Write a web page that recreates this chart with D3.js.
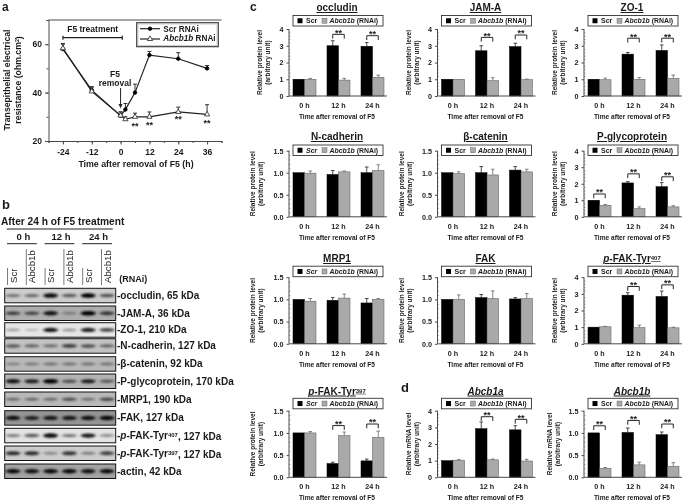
<!DOCTYPE html>
<html><head><meta charset="utf-8">
<script src="https://cdn.jsdelivr.net/npm/d3@7/dist/d3.min.js"></script>
<style>
html,body{margin:0;padding:0;background:#fff}
svg{display:block;filter:blur(0.45px)}
text{font-family:"Liberation Sans",Arial,sans-serif;fill:#1a1a1a}
</style></head><body>
<svg id="chart" width="685" height="501"></svg>
<script>
// ---------- panel a data ----------
const trerHours = [-24,-12,0,2,6,12,24,36];
const trerScr = [58,41,30.5,33,40,55.5,54,50];
const trerScrErr = [2,1.5,1.5,2.5,3.5,1.5,2.5,1.2];
const trerAbcb = [58.3,40.5,30.5,29,30,30,32,31];
const trerAbcbErr = [2,1.5,1.5,1,1.5,2,2,4];
const trerTicks = [-24,-12,0,12,24,36];
const trerStarHours = [6,12,24,36];
const trerStarValues = [26.5,27,29.5,27.5];
// ---------- panel b data ----------
const blotLabels = ["occludin, 65 kDa","JAM-A, 36 kDa","ZO-1, 210 kDa","N-cadherin, 127 kDa","β-catenin, 92 kDa","P-glycoprotein, 170 kDa","MRP1, 190 kDa","FAK, 127 kDa","*p*-FAK-Tyr^407^, 127 kDa","*p*-FAK-Tyr^397^, 127 kDa","actin, 42 kDa"];
const blotLanes = ["Scr","Abcb1b","Scr","Abcb1b","Scr","Abcb1b"];
const blotTimes = ["0 h","12 h","24 h"];
const blotBands = [
 [.45,.5,.95,.55,1,.6],[.65,.6,.9,.3,1,.7],[.3,.2,.9,.35,.85,.7],[.55,.5,.45,.7,.6,.5],
 [.3,.35,.4,.4,.4,.4],[.9,.85,1,.55,.85,.5],[.45,.45,.45,.55,.4,.6],[.9,.8,.85,.85,.9,.95],
 [.45,.6,.95,.5,.9,.4],[.8,.8,.35,.75,.4,.7],[.95,.9,.95,.95,.9,.95]];
const blotBackground = [.2,.32,.1,.24,.28,.3,.28,.42,.11,.2,.36];
// ---------- panels c,d data ----------
const panelTitles = ["occludin","JAM-A","ZO-1","N-cadherin","β-catenin","P-glycoprotein","MRP1","FAK","*p*-FAK-Tyr^407^","*p*-FAK-Tyr^397^","*Abcb1a*","*Abcb1b*"];
const timeLabels = ["0 h","12 h","24 h"];
const panelMax = [4,4,4,1.5,1.5,4,1.5,1.5,4,1.5,4,1.5];
const scrMeans = [[1,3,2.97],[1,2.7,2.95],[1,2.5,2.72],[1,.96,1],[1,1,1.06],[1,2.05,1.82],[1,.98,.92],[1,1.04,1.01],[1,2.92,2.84],[1,.31,.37],[1,2.92,2.85],[1,1.01,.96]];
const scrErrors = [[0,.3,.22],[0,.3,.2],[0,.1,.33],[0,.09,.13],[0,.14,.08],[0,.08,.25],[0,.06,.1],[0,.07,.03],[0,.15,.33],[0,.03,.04],[0,.4,.25],[0,.1,.06]];
const abcbMeans = [[1,.95,1.12],[1,.92,.98],[.97,1,1.05],[.99,1.02,1.05],[.98,.95,1.02],[.7,.5,.6],[.96,1.03,1],[1,1.02,1.02],[1.02,.97,.96],[1,.94,.9],[1.03,1.05,.98],[.2,.28,.25]];
const abcbErrors = [[.05,.1,.13],[0,.17,.03],[.1,.1,.2],[.05,.02,.13],[.04,.13,.06],[.05,.1,.07],[.06,.09,.02],[.1,.17,.11],[.03,.15,.04],[.03,.08,.14],[.03,.05,.1],[.02,.06,.08]];
const sigLevels = [[null,3.68,3.6],[null,3.5,3.64],[null,3.45,3.45],[null,null,null],[null,null,null],[1.38,2.6,2.42],[null,null,null],[null,null,null],[null,3.44,3.54],[null,1.165,1.2],[null,3.64,3.48],[1.16,1.28,1.2]];
const scrItalic = [false,false,false,true,false,false,true,false,false,true,false,false];
const yLabelFirst = ["Relative protein level","Relative protein level","Relative protein level","Relative protein level","Relative protein level","Relative protein level","Relative protein level","Relative protein level","Relative protein level","Relative protein level","Relative mRNA level","Relative mRNA level"];

const svg = d3.select("#chart");
const blackC="#000", grayC="#a9a9a9", axisC="#4a4a4a";

function rich(sel, str){
  // *x* italic, ^x^ superscript
  const parts = str.split(/(\*[^*]+\*|\^[^^]+\^)/).filter(s=>s.length);
  let afterSup=false;
  parts.forEach(p=>{
    const t = sel.append("tspan");
    if(afterSup){t.attr("dy","0.3em");afterSup=false;}
    if(p[0]==="*"){t.style("font-style","italic").text(p.slice(1,-1));}
    else if(p[0]==="^"){t.attr("dy","-0.3em").style("font-size","0.6em").text(p.slice(1,-1));afterSup=true;}
    else t.text(p);
  });
  return sel;
}
function label(x,y,str,opts={}){
  const t = svg.append("text").attr("x",x).attr("y",y)
    .attr("text-anchor",opts.anchor||"start")
    .style("font-size",(opts.size||8)+"px").style("font-weight",opts.weight||"bold");
  if(opts.rotate) t.attr("transform",`rotate(-90 ${x} ${y})`);
  if(opts.underline) t.style("text-decoration","underline");
  return rich(t,str);
}

// panel letters
label(2,11,"a",{size:12}); label(2,209,"b",{size:13}); label(250,11,"c",{size:12}); label(401,392,"d",{size:13});

// ================= Panel a ================
(function(){
  const g = svg.append("g");
  const x = d3.scaleLinear().domain([-30,42]).range([48.5,221.5]);
  const y = d3.scaleLinear().domain([20,70]).range([141,20]);
  g.append("g").attr("transform","translate(0,141)")
    .call(d3.axisBottom(x).tickValues(d3.range(-30,43,6)).tickSize(2).tickFormat(""))
    .call(a=>a.selectAll("path,line").attr("stroke",axisC).attr("stroke-width",1));
  g.append("g").attr("transform","translate(0,141)")
    .call(d3.axisBottom(x).tickValues(trerTicks).tickSize(3.5).tickFormat(d=>d).tickPadding(4))
    .call(a=>{a.select(".domain").remove();a.selectAll("line").attr("stroke",axisC);
      a.selectAll("text").style("font-size","8.5px").style("font-weight","bold")
       .style("font-family",'"Liberation Sans"').attr("fill","#1a1a1a");});
  g.append("g").attr("transform","translate(48.5,0)")
    .call(d3.axisLeft(y).tickValues(d3.range(20,71,10)).tickSize(2).tickFormat(""))
    .call(a=>a.selectAll("path,line").attr("stroke",axisC));
  g.append("g").attr("transform","translate(48.5,0)")
    .call(d3.axisLeft(y).tickValues([20,40,60]).tickSize(3.5).tickPadding(3))
    .call(a=>{a.select(".domain").remove();a.selectAll("line").attr("stroke",axisC);
      a.selectAll("text").style("font-size","8.5px").style("font-weight","bold")
       .style("font-family",'"Liberation Sans"').attr("fill","#1a1a1a");});
  g.append("line").attr("x1",x(-30)).attr("x2",x(42)).attr("y1",y(70)).attr("y2",y(70)).attr("stroke",axisC);

  const line = d3.line().x(d=>x(d.t)).y(d=>y(d.v));
  const sets=[
    {vals:trerScr,errs:trerScrErr,tri:false},
    {vals:trerAbcb,errs:trerAbcbErr,tri:true}];
  sets.forEach(s=>{
    const pts = trerHours.map((t,i)=>({t,v:s.vals[i],e:s.errs[i]}));
    const eb = g.append("g").attr("stroke","#333").attr("stroke-width",1);
    pts.forEach(p=>{
      eb.append("line").attr("x1",x(p.t)).attr("x2",x(p.t)).attr("y1",y(p.v)).attr("y2",y(p.v+p.e));
      eb.append("line").attr("x1",x(p.t)-2).attr("x2",x(p.t)+2).attr("y1",y(p.v+p.e)).attr("y2",y(p.v+p.e));
    });
    g.append("path").datum(pts).attr("d",line).attr("fill","none").attr("stroke","#222").attr("stroke-width",1.2);
    const m = d3.symbol().type(s.tri?d3.symbolTriangle:d3.symbolCircle).size(s.tri?12:10);
    g.selectAll(null).data(pts).join("path").attr("d",m)
      .attr("transform",d=>`translate(${x(d.t)},${y(d.v)})`)
      .attr("fill",s.tri?"#fff":"#000").attr("stroke",s.tri?"#222":"#000").attr("stroke-width",.8);
  });
  // stars
  trerStarHours.forEach((h,i)=>{
    g.append("text").attr("x",x(h)).attr("y",y(trerStarValues[i])+3.5).attr("text-anchor","middle")
      .style("font-size","9px").style("font-weight","bold").text("**");
  });
  // treatment bracket
  const by=37.7;
  g.append("path").attr("d",`M${x(-24)},${by-2}V${by+2}M${x(-24)},${by}H${x(0.7)}M${x(0.7)},${by-2}V${by+2}`).attr("stroke","#222").attr("stroke-width",1.2).attr("fill","none");
  label(92.7,31.5,"F5 treatment",{anchor:"middle",size:8.5});
  label(115,77.3,"F5",{anchor:"middle",size:8.5});
  label(115,86,"removal",{anchor:"middle",size:8.5});
  g.append("path").attr("d",`M${x(0)},88V105`).attr("stroke","#222").attr("fill","none");
  g.append("path").attr("d",`M${x(0)-2},104L${x(0)},108.5L${x(0)+2},104Z`).attr("fill","#222");
  label(136,167,"Time after removal of F5 (h)",{anchor:"middle",size:8.8});
  label(9.5,80,"Transepithelial electrical",{anchor:"middle",size:8.7,rotate:true});
  label(20.5,80,"resistance (ohm.cm^2^)",{anchor:"middle",size:8.7,rotate:true});
  // legend
  g.append("rect").attr("x",136.7).attr("y",22.7).attr("width",81.6).attr("height",24).attr("fill","#fff").attr("stroke","#333").attr("stroke-width",1.1);
  g.append("rect").attr("x",138).attr("y",24).attr("width",79).attr("height",21.4).attr("fill","none").attr("stroke","#999").attr("stroke-width",.5);
  [[28.7,false,"Scr RNAi",31.7],[39,true,"*Abcb1b* RNAi",41.3]].forEach(([ly,tri,txt,ty])=>{
    g.append("line").attr("x1",140).attr("x2",160).attr("y1",ly).attr("y2",ly).attr("stroke","#222").attr("stroke-width",1.2);
    g.append("path").attr("d",d3.symbol().type(tri?d3.symbolTriangle:d3.symbolCircle).size(tri?12:10)).attr("transform",`translate(150,${ly})`)
      .attr("fill",tri?"#fff":"#000").attr("stroke",tri?"#222":"#000").attr("stroke-width",.8);
    label(163.3,ty,txt,{size:8.2});
  });
})();

// ================= Panel b ================
(function(){
  const laneX = d3.scalePoint().domain(d3.range(6)).range([13,107]);
  const rowTop = d3.scaleOrdinal().domain(blotLabels).range([288.3,306,322.7,338.7,356.7,374,392,410.7,428.3,446,464]);
  const shade = d3.scaleLinear().domain([0,1]).range(["#ffffff","#000000"]);
  const defs = svg.append("defs");
  defs.append("filter").attr("id","band").attr("x","-50%").attr("y","-100%").attr("width","200%").attr("height","300%")
    .append("feGaussianBlur").attr("stdDeviation","1.7 0.9");
  const rw=111, rh=14.5, rx=4.7;
  label(1,225,"After 24 h of F5 treatment",{size:10.2});
  svg.append("line").attr("x1",6.7).attr("x2",112.7).attr("y1",229).attr("y2",229).attr("stroke","#222");
  blotTimes.forEach((t,i)=>{
    const a=laneX(i*2)-6, b=laneX(i*2+1)+5, c=(laneX(i*2)+laneX(i*2+1))/2+1;
    label(c,240,t,{anchor:"middle",size:9.5});
    svg.append("line").attr("x1",a).attr("x2",b).attr("y1",243.7).attr("y2",243.7).attr("stroke","#222");
  });
  blotLanes.forEach((l,i)=>{
    svg.append("text").attr("transform",`translate(${laneX(i)+3.5},283) rotate(-90)`)
      .style("font-size","9.7px").style("font-weight","500").text(l);
    svg.append("line").attr("x1",laneX(i)-5.5).attr("x2",laneX(i)-5.5).attr("y1",l==="Scr"?268:249).attr("y2",285).attr("stroke","#444").attr("stroke-width",.7);
  });
  label(119.3,281.5,"(RNAi)",{size:9});
  blotLabels.forEach((name,r)=>{
    const top=rowTop(name);
    const id="clip"+r;
    defs.append("clipPath").attr("id",id).append("rect").attr("x",rx).attr("y",top).attr("width",rw).attr("height",rh);
    const g=svg.append("g").attr("clip-path",`url(#${id})`);
    g.append("rect").attr("x",rx).attr("y",top).attr("width",rw).attr("height",rh).attr("fill",shade(blotBackground[r]));
    g.selectAll("ellipse").data(blotBands[r]).join("ellipse")
      .attr("cx",(d,i)=>laneX(i)).attr("cy",top+rh/2)
      .attr("rx",7.5).attr("ry",(d)=>1+d*1.3)
      .attr("fill","#000").attr("opacity",d=>d).attr("filter","url(#band)");
    svg.append("rect").attr("x",rx).attr("y",top).attr("width",rw).attr("height",rh).attr("fill","none").attr("stroke","#111").attr("stroke-width",1);
    const t=svg.append("text").attr("x",117).attr("y",top+rh/2+3.4).style("font-size","10px").style("font-weight","bold");
    rich(t,"-"+name);
  });
})();

// ================= Panels c, d ================
const colAxis=[289,437.5,584];
const rowSpec=[
 {top:29,bot:96,leg:15.5,title:11},
 {top:150.7,bot:216.8,leg:145,title:140},
 {top:277.2,bot:343.8,leg:266.2,title:262},
 {top:410.7,bot:477.3,leg:398.3,title:394.5}];
panelTitles.forEach((title,i)=>{
  const col=i%3, row=Math.floor(i/3), ax=colAxis[col], R=rowSpec[row], mx=panelMax[i];
  const g=svg.append("g");
  const y=d3.scaleLinear().domain([0,mx]).range([R.bot,R.top]);
  const x0=d3.scaleBand().domain(timeLabels).range([ax-1.5,ax+100.5]);
  const x1=d3.scaleBand().domain(["scr","abcb"]).range([5.5,28.5]);
  const major=mx===4?d3.range(0,4.01,1):[0,.5,1,1.5];
  const minor=d3.range(0,mx+1e-6,mx===4?.2:.1);
  const minorY=minor.filter(v=>!major.some(m=>Math.abs(m-v)<1e-6));
  // minor ticks
  g.append("g").attr("transform",`translate(${ax},0)`)
    .call(d3.axisRight(y).tickValues(minorY).tickSize(1.5).tickFormat(""))
    .call(a=>{a.select(".domain").remove();a.selectAll("line").attr("stroke","#777").attr("stroke-width",.6);});
  g.append("g").attr("transform",`translate(${ax},0)`)
    .call(d3.axisLeft(y).tickValues(major).tickSize(2.5).tickPadding(3).tickFormat(d=>mx===4?d:d3.format(".1f")(d)))
    .call(a=>{a.select(".domain").attr("stroke",axisC).attr("d",`M0,${R.bot}V${R.top}`);
      a.selectAll("line").attr("stroke",axisC);
      a.selectAll("text").style("font-size","7.2px").style("font-weight","bold")
       .style("font-family",'"Liberation Sans"').attr("fill","#1a1a1a");});
  // bars
  const rows=timeLabels.map((t,k)=>({t,scr:scrMeans[i][k],se:scrErrors[i][k],ab:abcbMeans[i][k],ae:abcbErrors[i][k],sig:sigLevels[i][k]}));
  rows.forEach(d=>{
    const bx=x0(d.t);
    [["scr",d.scr,d.se,blackC],["abcb",d.ab,d.ae,grayC]].forEach(([k,v,e,c])=>{
      const cx=bx+x1(k)+x1.bandwidth()/2;
      if(e>0){
        g.append("line").attr("x1",cx).attr("x2",cx).attr("y1",y(v)).attr("y2",y(v+e)).attr("stroke",c===blackC?"#222":"#666").attr("stroke-width",.8);
        g.append("line").attr("x1",cx-1.8).attr("x2",cx+1.8).attr("y1",y(v+e)).attr("y2",y(v+e)).attr("stroke",c===blackC?"#222":"#666").attr("stroke-width",.8);
      }
      g.append("rect").attr("x",bx+x1(k)).attr("width",x1.bandwidth()).attr("y",y(v)).attr("height",R.bot-y(v))
        .attr("fill",c).attr("stroke",c===blackC?"#000":"#555").attr("stroke-width",.5);
    });
    if(d.sig!=null){
      const a=bx+x1("scr")+x1.bandwidth()/2, b=bx+x1("abcb")+x1.bandwidth()/2, ty=y(d.sig);
      g.append("path").attr("d",`M${a},${ty+4.3}V${ty}H${b}V${ty+4.3}`).attr("fill","none").attr("stroke","#111").attr("stroke-width",.9);
      g.append("text").attr("x",(a+b)/2).attr("y",ty+1.3).attr("text-anchor","middle").style("font-size","9px").style("font-weight","bold").text("**");
    }
  });
  // x axis
  g.append("line").attr("x1",ax).attr("x2",ax+98).attr("y1",R.bot).attr("y2",R.bot).attr("stroke",axisC).attr("stroke-width",1);
  g.append("g").attr("transform",`translate(0,${R.bot})`)
    .call(d3.axisBottom(x0).tickSize(0).tickPadding(7))
    .call(a=>{a.select(".domain").remove();
      a.selectAll("text").style("font-size","7.2px").style("font-weight","bold")
       .style("font-family",'"Liberation Sans"').attr("fill","#1a1a1a");});
  label(ax+48,R.bot+23,"Time after removal of F5",{anchor:"middle",size:6.6});
  // y labels
  const wide=mx===1.5, midY=(R.top+R.bot)/2;
  const lx=wide?(yLabelFirst[i].includes("mRNA")?-32:-34):-27;
  label(ax+lx,midY,yLabelFirst[i],{anchor:"middle",size:6.5,rotate:true});
  label(ax+lx+8.3,midY,"(arbitrary unit)",{anchor:"middle",size:6.5,rotate:true});
  // title
  label(ax+48,R.title,title,{anchor:"middle",size:10,underline:true});
  // legend
  const lgx=ax+4, lgw=90, lgh=10.5, ly=R.leg;
  g.append("rect").attr("x",lgx).attr("y",ly).attr("width",lgw).attr("height",lgh).attr("fill","#fff").attr("stroke","#333").attr("stroke-width",.9);
  const my=ly+lgh/2;
  g.append("rect").attr("x",lgx+4.5).attr("y",my-2.5).attr("width",5).attr("height",5).attr("fill","#000");
  g.append("rect").attr("x",lgx+29).attr("y",my-2.5).attr("width",5).attr("height",5).attr("fill",grayC).attr("stroke","#555").attr("stroke-width",.4);
  label(lgx+13,my+2.5,scrItalic[i]?"*Scr*":"Scr",{size:7});
  label(lgx+36.5,my+2.5,"*Abcb1b* (RNAi)",{size:6.9});
});
</script>
</body></html>
